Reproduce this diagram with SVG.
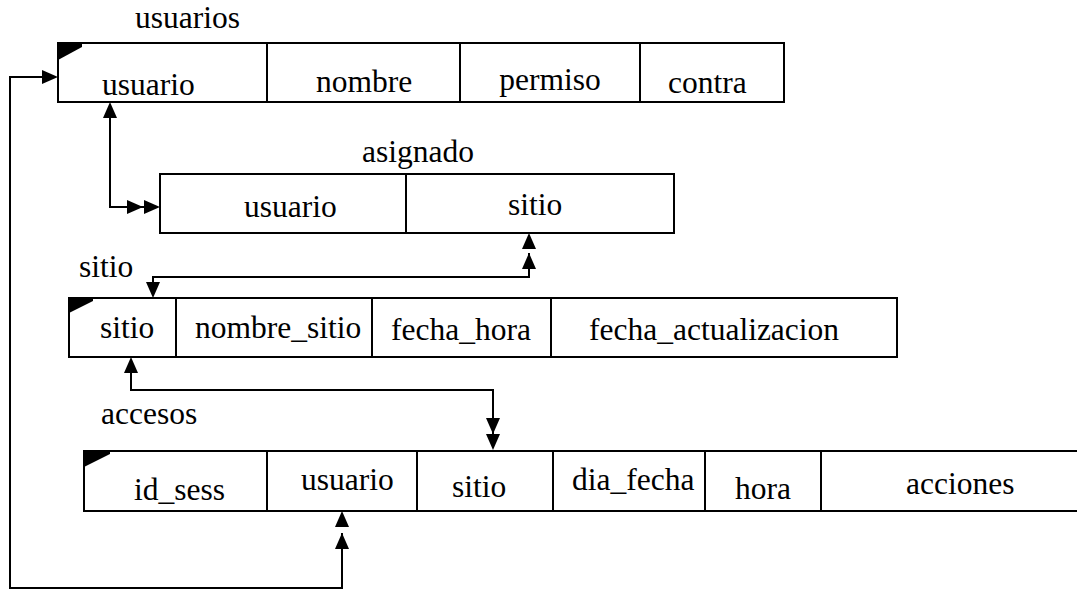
<svg xmlns="http://www.w3.org/2000/svg" xmlns:xlink="http://www.w3.org/1999/xlink" width="1077" height="590" viewBox="0 0 1077 590">
<style>
text{font-family:"Liberation Serif","Times New Roman",serif;font-size:31.5px;fill:#000}
.box{fill:#fff;stroke:#000;stroke-width:2}
.div{stroke:#000;stroke-width:2}
.conn{fill:none;stroke:#000;stroke-width:2}
.flag{fill:#000}
</style>
<defs>
<polygon id="ah" points="0,0 -7,16 7,16" fill="#000"/>
</defs>
<rect width="1077" height="590" fill="#fff"/>
<g id="usuarios">
<text x="135" y="28">usuarios</text>
<rect class="box" x="58" y="43" width="726" height="59"/>
<polygon class="flag" points="58,43 82,43 82,47 58,60"/>
<line class="div" x1="267" y1="43" x2="267" y2="102"/>
<line class="div" x1="460" y1="43" x2="460" y2="102"/>
<line class="div" x1="640" y1="43" x2="640" y2="102"/>
<text x="102" y="95">usuario</text>
<text x="316" y="92">nombre</text>
<text x="550" y="90" text-anchor="middle">permiso</text>
<text x="668" y="93">contra</text>
</g>
<g id="asignado">
<text x="362" y="162">asignado</text>
<rect class="box" x="160" y="174" width="514" height="59"/>
<line class="div" x1="406" y1="174" x2="406" y2="233"/>
<text x="244" y="217">usuario</text>
<text x="508" y="215">sitio</text>
</g>
<g id="sitio">
<text x="79" y="277">sitio</text>
<rect class="box" x="69" y="298" width="828" height="59"/>
<polygon class="flag" points="69,298 93,298 93,301 69,313"/>
<line class="div" x1="176" y1="298" x2="176" y2="357"/>
<line class="div" x1="372" y1="298" x2="372" y2="357"/>
<line class="div" x1="551" y1="298" x2="551" y2="357"/>
<text x="100" y="338">sitio</text>
<text x="195" y="338">nombre_sitio</text>
<text x="461" y="340" text-anchor="middle">fecha_hora</text>
<text x="589" y="340">fecha_actualizacion</text>
</g>
<g id="accesos">
<text x="101" y="424">accesos</text>
<path class="conn" d="M1077,451 H84 V511 H1077"/>
<polygon class="flag" points="84,451 110,451 110,454 84,467"/>
<line class="div" x1="267" y1="451" x2="267" y2="511"/>
<line class="div" x1="417" y1="451" x2="417" y2="511"/>
<line class="div" x1="553" y1="451" x2="553" y2="511"/>
<line class="div" x1="705" y1="451" x2="705" y2="511"/>
<line class="div" x1="821" y1="451" x2="821" y2="511"/>
<text x="134" y="500">id_sess</text>
<text x="301" y="490">usuario</text>
<text x="452" y="497">sitio</text>
<text x="572" y="490">dia_fecha</text>
<text x="735" y="499">hora</text>
<text x="906" y="494">acciones</text>
</g>
<g id="connectors">
<path class="conn" d="M342,533 V588 H10 V77 H44"/>
<use xlink:href="#ah" transform="translate(58,77) rotate(90)"/>
<use xlink:href="#ah" transform="translate(342,511)"/>
<use xlink:href="#ah" transform="translate(342,533)"/>
<path class="conn" d="M110,116 V207 H145"/>
<use xlink:href="#ah" transform="translate(110,102)"/>
<use xlink:href="#ah" transform="translate(143,207) rotate(90)"/>
<use xlink:href="#ah" transform="translate(160,207) rotate(90)"/>
<path class="conn" d="M529,253 V277 H153 V284"/>
<use xlink:href="#ah" transform="translate(529,233)"/>
<use xlink:href="#ah" transform="translate(529,253)"/>
<use xlink:href="#ah" transform="translate(153,298) rotate(180)"/>
<path class="conn" d="M131,371 V390 H493 V436"/>
<use xlink:href="#ah" transform="translate(131,357)"/>
<use xlink:href="#ah" transform="translate(493,434) rotate(180)"/>
<use xlink:href="#ah" transform="translate(493,450) rotate(180)"/>
</g>
</svg>
